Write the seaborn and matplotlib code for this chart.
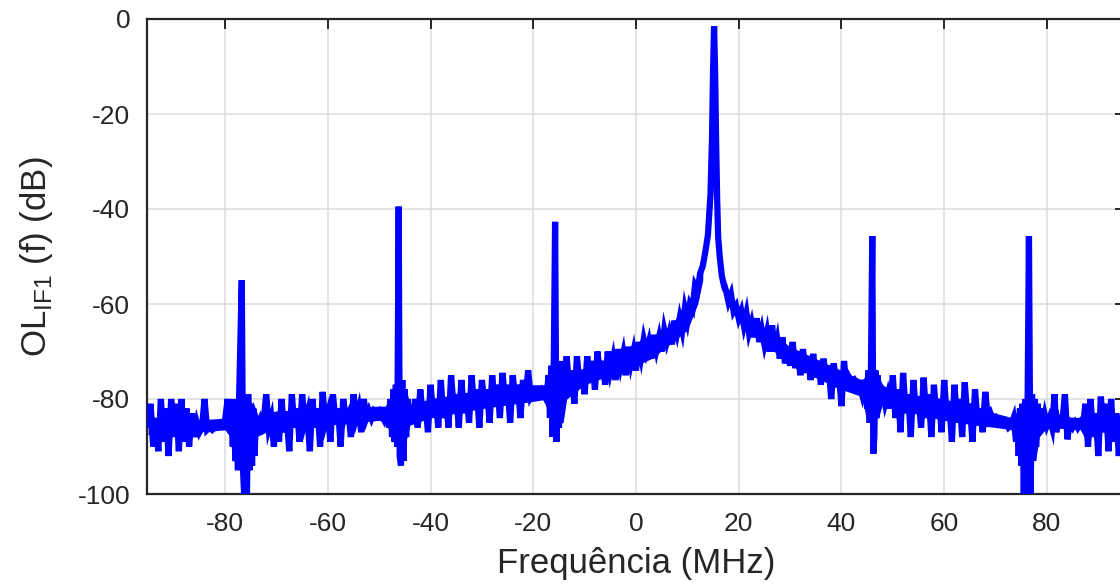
import numpy as np
import pandas as pd
import matplotlib
matplotlib.use("Agg")
import matplotlib.pyplot as plt
import seaborn as sns

# Spectrum samples: frequency (MHz) and level (dB)
freq_mhz = [
    -95.0, -94.5, -94.0, -93.5, -93.0, -92.5, -92.0, -91.5, -91.0, -90.5,
    -90.0, -89.5, -89.0, -88.5, -88.0, -87.5, -87.0, -86.5, -86.0, -85.5,
    -85.0, -84.5, -84.0, -83.5, -83.0, -82.5, -82.0, -81.5, -81.0, -80.5,
    -80.0, -79.5, -79.0, -78.75, -78.5, -78.25, -78.0, -77.75, -77.5, -77.25,
    -76.75, -76.5, -76.25, -76.0, -75.75, -75.5, -75.25, -75.0, -74.75, -74.5,
    -74.25, -74.0, -73.5, -73.0, -72.5, -72.0, -71.5, -71.0, -70.5, -70.0,
    -69.5, -69.0, -68.5, -68.0, -67.5, -67.0, -66.5, -66.0, -65.5, -65.0,
    -64.5, -64.0, -63.5, -63.0, -62.5, -62.0, -61.5, -61.0, -60.5, -60.0,
    -59.5, -59.0, -58.5, -58.0, -57.5, -57.0, -56.5, -56.0, -55.5, -55.0,
    -54.5, -54.0, -53.5, -53.0, -52.5, -52.0, -51.5, -51.0, -50.5, -50.0,
    -49.5, -49.0, -48.5, -48.0, -47.75, -47.5, -47.25, -47.0, -46.75, -46.5,
    -46.4, -46.2, -46.0, -45.75, -45.5, -45.25, -45.0, -44.75, -44.5, -44.25,
    -44.0, -43.5, -43.0, -42.5, -42.0, -41.5, -41.0, -40.5, -40.0, -39.5,
    -39.0, -38.5, -38.0, -37.5, -37.0, -36.5, -36.0, -35.5, -35.0, -34.5,
    -34.0, -33.5, -33.0, -32.5, -32.0, -31.5, -31.0, -30.5, -30.0, -29.5,
    -29.0, -28.5, -28.0, -27.5, -27.0, -26.5, -26.0, -25.5, -25.0, -24.5,
    -24.0, -23.5, -23.0, -22.5, -22.0, -21.5, -21.0, -20.5, -20.0, -19.5,
    -19.0, -18.5, -18.0, -17.5, -17.0, -16.75, -16.5, -16.25, -16.0, -15.75,
    -15.5, -15.25, -15.0, -14.75, -14.5, -14.25, -14.0, -13.5, -13.0, -12.5,
    -12.0, -11.5, -11.0, -10.5, -10.0, -9.5, -9.0, -8.5, -8.0, -7.5,
    -7.0, -6.5, -6.0, -5.5, -5.0, -4.5, -4.0, -3.5, -3.0, -2.5,
    -2.0, -1.5, -1.0, -0.5, 0.0, 0.5, 1.0, 1.5, 2.0, 2.5,
    3.0, 3.5, 4.0, 4.5, 5.0, 5.5, 6.0, 6.5, 7.0, 7.5,
    8.0, 8.5, 9.0, 9.5, 10.0, 10.5, 11.0, 11.5, 12.0, 12.5,
    13.0, 13.5, 14.0, 14.5, 14.8, 15.0, 15.2, 15.4, 15.6, 15.8,
    16.0, 16.3, 16.7, 17.2, 17.6, 18.0, 18.5, 19.0, 19.5, 20.0,
    20.5, 21.0, 21.5, 22.0, 22.5, 23.0, 23.5, 24.0, 24.5, 25.0,
    25.5, 26.0, 26.5, 27.0, 27.5, 28.0, 28.5, 29.0, 29.5, 30.0,
    30.5, 31.0, 31.5, 32.0, 32.5, 33.0, 33.5, 34.0, 34.5, 35.0,
    35.5, 36.0, 36.5, 37.0, 37.5, 38.0, 38.5, 39.0, 39.5, 40.0,
    40.5, 41.0, 41.5, 42.0, 42.5, 43.0, 43.5, 44.0, 44.5, 45.0,
    45.25, 45.5, 45.75, 46.0, 46.2, 46.4, 46.6, 46.8, 47.0, 47.25,
    47.5, 47.75, 48.0, 48.5, 49.0, 49.5, 50.0, 50.5, 51.0, 51.5,
    52.0, 52.5, 53.0, 53.5, 54.0, 54.5, 55.0, 55.5, 56.0, 56.5,
    57.0, 57.5, 58.0, 58.5, 59.0, 59.5, 60.0, 60.5, 61.0, 61.5,
    62.0, 62.5, 63.0, 63.5, 64.0, 64.5, 65.0, 65.5, 66.0, 66.5,
    67.0, 67.5, 68.0, 68.5, 69.0, 69.5, 70.0, 70.5, 71.0, 71.5,
    72.0, 72.5, 73.0, 73.5, 74.0, 74.25, 74.5, 74.75, 75.0, 75.25,
    75.5, 75.75, 76.0, 76.25, 76.5, 76.8, 77.1, 77.3, 77.6, 77.9,
    78.2, 78.5, 78.8, 79.2, 79.6, 80.0, 80.5, 81.0, 81.5, 81.8,
    82.2, 82.5, 83.0, 83.5, 84.0, 84.4, 85.0, 85.5, 86.0, 86.5,
    87.0, 87.5, 88.0, 88.5, 89.0, 89.5, 90.0, 90.5, 91.0, 91.5,
    92.0, 92.5, 93.0, 93.5, 94.0, 94.5, 95.0,
]

level_db = [
    -86, -81, -90, -84, -91, -80, -89, -82, -92, -80,
    -88, -81, -91, -80, -89, -82, -90, -83, -88, -85,
    -87, -86, -80, -86.5, -86, -86.5, -86, -86, -85.5, -85,
    -84.5, -80, -87, -81, -90, -80, -93, -80, -95, -79,
    -55, -95, -101, -96, -101, -79, -95, -81, -94, -82,
    -92, -84, -85.5, -84, -85, -79, -86, -84, -90, -83,
    -89, -80, -87, -84, -91, -79, -86, -82, -89, -79,
    -85, -83, -91, -80, -86, -82, -90, -78.5, -85, -83,
    -89, -79, -85, -82, -90, -80, -84, -83, -88, -79,
    -84, -82, -87, -80, -84, -82.5, -84, -82.5, -83, -82.5,
    -83.5, -84.5, -83, -86, -80, -88, -78, -89, -77, -90,
    -75, -39.5, -92, -94, -76, -93, -78, -88, -80, -85,
    -82, -85, -80, -86, -78, -84, -81, -87, -77, -83,
    -80, -86, -76, -84, -80, -86, -75, -82, -79, -86,
    -76, -83, -79, -85, -75, -82, -78, -86, -76, -81,
    -78, -85, -75, -81, -77, -84, -74.5, -80, -77, -85,
    -75, -80, -77, -84, -76, -80, -74, -79.5, -78.5, -78,
    -78.5, -78, -79, -80, -75, -84, -73, -88, -72, -42.7,
    -89, -72, -86, -74, -83, -72, -80, -71, -78, -74,
    -81, -71, -77, -74, -79, -71, -76, -72, -78, -70,
    -75, -72, -77, -70, -74, -71.5, -76, -69.5, -73, -70.5,
    -75, -69, -72.5, -70, -74, -68, -71, -67.5, -70, -68,
    -71.5, -66.5, -69.5, -67, -70, -65.5, -68, -66, -68.5, -63.5,
    -66, -63, -65.5, -61, -63.5, -60, -61, -56, -57, -53.5,
    -52, -49, -45.5, -37, -25, -11, -1.5, -11, -26, -38,
    -46, -50, -54, -56.5, -57.5, -59.5, -58, -61.5, -60.5, -63,
    -61.5, -64.5, -62, -66, -64, -67, -63, -68, -65.5, -68.5,
    -66, -70, -64.5, -70, -67.5, -71.5, -67, -72.5, -69, -73,
    -68, -73.5, -70, -75, -69.5, -74.5, -71, -76, -70.5, -75.5,
    -72, -77, -71.5, -76, -73, -80, -72.5, -77.5, -74.5, -81.5,
    -72, -78, -75.5, -76.5, -76, -77, -77, -79, -76, -82,
    -74, -85, -73, -45.7, -91.5, -88, -74, -84, -75, -81,
    -77, -80, -78, -81, -79, -82, -75, -84, -78, -87,
    -74.5, -83, -79, -88, -76, -83, -80, -86, -75.5, -84,
    -79, -88, -77, -84, -80, -87, -76, -84, -81, -89,
    -77, -85, -80, -88, -76.5, -84, -81, -89, -78, -85,
    -82, -87, -78.5, -84, -83, -84.5, -84, -85, -84.5, -85,
    -85, -86, -85.5, -84, -89, -83, -92, -82, -94, -81,
    -101, -80, -101, -79, -45.7, -101, -79, -93, -80, -90,
    -81, -87, -82, -86, -83.5, -85.5, -84, -86, -79, -87,
    -84.5, -85.5, -85, -79, -88.5, -85, -86, -85, -86, -85,
    -86, -81, -90, -80, -88, -83, -92, -79.5, -87, -81,
    -91, -80, -89, -83, -92, -82, -86,
]

# Dense core of the noise band (lower / upper edge)
core_left_freq = [-95, -86, -80, -79, -78.5, -74.8, -74, -70, -60, -50,
                  -48.5, -47.5, -44.8, -44, -40, -30, -20, -17.2, -16.8,
                  -14.2, -13.5, -10, -5, 0, 3, 6, 10, 12, 13]
core_left_lo = [-87.5, -87, -86.5, -88, -93, -94, -88, -86, -85.5, -84.5,
                -85, -89, -89, -85.5, -84, -82, -80.5, -80, -85,
                -85, -80, -77, -75, -73, -71.5, -69, -65.5, -60, -55]
core_left_hi = [-84, -84.5, -84, -83, -81, -82, -83.5, -82.5, -82, -81.5,
                -81.5, -78, -78, -81, -80, -78, -77, -77, -74,
                -74, -74.5, -73.5, -71.5, -69.5, -68.5, -66, -62.5, -57, -52.5]

core_right_freq = [17.5, 18, 20, 25, 30, 35, 40, 44, 44.8, 47.2, 48, 50,
                   60, 66, 70, 73.5, 74.5, 77.8, 78.5, 80, 88, 95]
core_right_lo = [-58, -60, -63.5, -68.5, -72.5, -75.5, -78, -79.5, -84, -84,
                 -81, -82, -84.5, -85.5, -86, -86.5, -92, -93, -88, -86,
                 -86.5, -87.5]
core_right_hi = [-55, -57, -60.5, -65, -69, -71.5, -74, -76, -75, -75,
                 -77, -78.5, -80, -81.5, -83, -84, -82, -80, -82, -83.5,
                 -84, -84.5]

x_ticks = [-80, -60, -40, -20, 0, 20, 40, 60, 80]
y_ticks = [-100, -80, -60, -40, -20, 0]

df = pd.DataFrame({"freq": freq_mhz, "level": level_db})

sns.set_theme(style="whitegrid")
plt.rcParams["font.family"] = ["Liberation Sans", "DejaVu Sans"]
plt.rcParams["mathtext.fontset"] = "custom"
plt.rcParams["mathtext.rm"] = "Liberation Sans"

BLUE = "#0000ff"

fig = plt.figure(figsize=(11.2, 5.84), dpi=100)
ax = fig.add_axes([147 / 1120, 90 / 584, 978 / 1120, 475 / 584])

ax.fill_between(core_left_freq, core_left_lo, core_left_hi, color=BLUE,
                linewidth=0, zorder=2)
ax.fill_between(core_right_freq, core_right_lo, core_right_hi, color=BLUE,
                linewidth=0, zorder=2)
sns.lineplot(data=df, x="freq", y="level", ax=ax, color=BLUE,
             linewidth=4.5, estimator=None, sort=False, zorder=3)
for ln in ax.get_lines():
    ln.set_solid_joinstyle("miter")
    ln.set_solid_capstyle("butt")

ax.set_xlim(-95.2, 95.2)
ax.set_ylim(-100, 0)
ax.set_xticks(x_ticks)
ax.set_yticks(y_ticks)
ax.set_xticklabels([str(v) for v in x_ticks])
ax.set_yticklabels([str(v) for v in y_ticks])

ax.grid(True, color="#dcdcdc", linewidth=1.1)
ax.set_axisbelow(True)
for side in ["left", "right", "top", "bottom"]:
    ax.spines[side].set_visible(True)
    ax.spines[side].set_color("#262626")
    ax.spines[side].set_linewidth(1.6)

ax.tick_params(direction="in", top=True, right=True, length=7, width=1.4,
               colors="#262626", labelsize=19)
ax.tick_params(axis="x", pad=13)
ax.tick_params(axis="y", pad=12)

ax.set_xlabel("Frequência (MHz)", fontsize=25, color="#262626", labelpad=8)
ax.set_ylabel(r"OL$_{\mathregular{IF1}}$ (f) (dB)", fontsize=25,
              color="#262626", labelpad=16)

fig.savefig("out.png", dpi=100, facecolor="white")
